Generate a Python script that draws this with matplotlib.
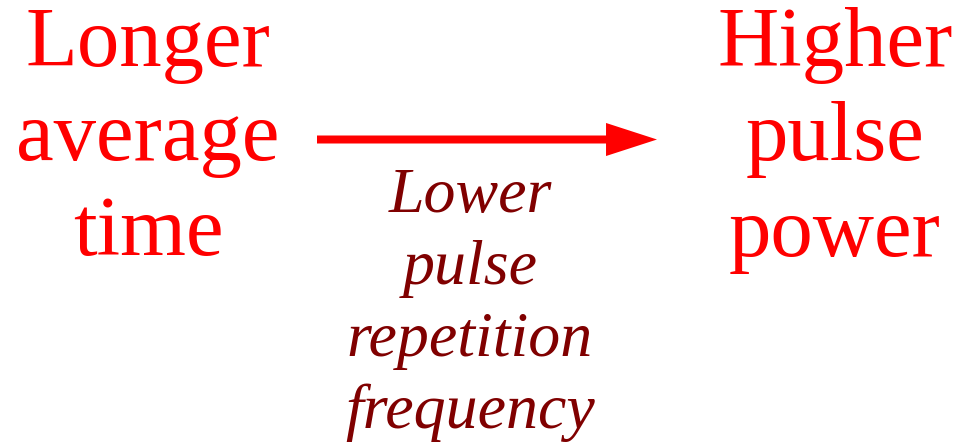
import matplotlib.pyplot as plt
from matplotlib.patches import FancyArrowPatch

# text blocks
left_lines = ["Longer", "average", "time"]
right_lines = ["Higher", "pulse", "power"]
mid_lines = ["Lower", "pulse", "repetition", "frequency"]

fig = plt.figure(figsize=(9.63, 4.42), dpi=100)
ax = fig.add_axes([0, 0, 1, 1])
ax.set_xlim(0, 963)
ax.set_ylim(442, 0)
ax.axis("off")

big = dict(fontsize=61, color="#ff0000", family="Liberation Serif",
           ha="center", va="center")
for i, s in enumerate(left_lines):
    ax.text(148, 45 + i * 95, s, **big)
for i, s in enumerate(right_lines):
    ax.text(835, 45 + i * 95, s, **big)

small = dict(fontsize=46, color="#800000", family="Liberation Serif",
             style="italic", ha="center", va="center")
for i, s in enumerate(mid_lines):
    ax.text(470, 197 + i * 72, s, **small)

# arrow: sizes in points (x dpi/72 -> px)
arr = FancyArrowPatch((317, 139.5), (657, 139.5),
                      arrowstyle="simple,tail_width=5.76,head_width=23.8,head_length=36.7",
                      mutation_scale=1, color="#ff0000", lw=0, shrinkA=0, shrinkB=0)
ax.add_patch(arr)

fig.savefig("out.png", dpi=100)
